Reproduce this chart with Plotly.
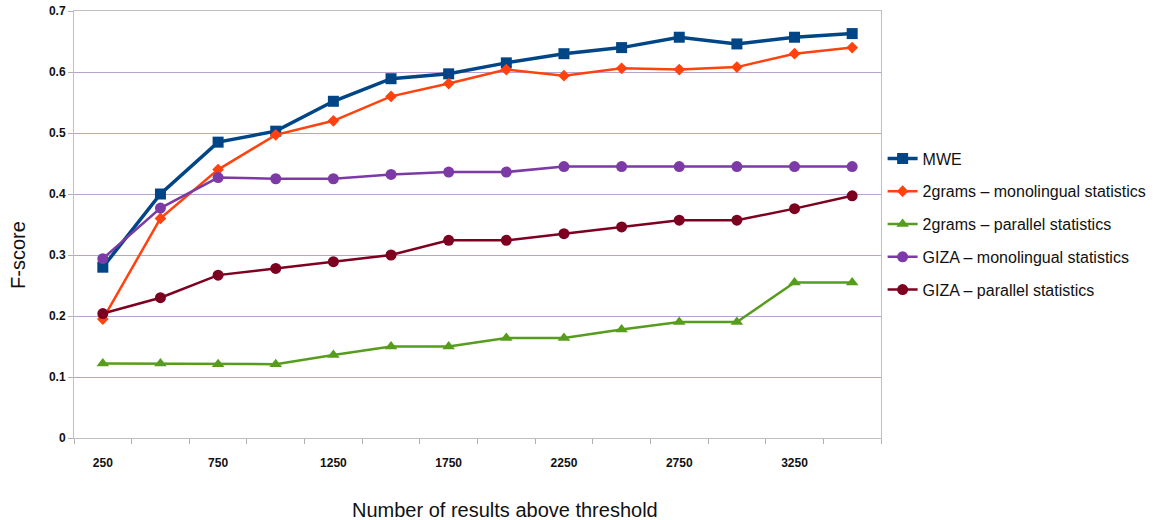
import plotly.graph_objects as go

thresholds = [250, 500, 750, 1000, 1250, 1500, 1750, 2000, 2250, 2500, 2750, 3000, 3250, 3500]
tick_labels = ["250", "750", "1250", "1750", "2250", "2750", "3250"]

mwe = [0.280, 0.400, 0.485, 0.503, 0.552, 0.589, 0.597, 0.615, 0.630, 0.640, 0.657, 0.646, 0.657, 0.663]
grams_mono = [0.195, 0.360, 0.440, 0.497, 0.520, 0.560, 0.581, 0.604, 0.594, 0.606, 0.604, 0.608, 0.630, 0.640]
grams_par = [0.122, 0.122, 0.121, 0.121, 0.136, 0.150, 0.150, 0.164, 0.164, 0.178, 0.190, 0.190, 0.255, 0.255]
giza_mono = [0.294, 0.377, 0.427, 0.425, 0.425, 0.432, 0.436, 0.436, 0.445, 0.445, 0.445, 0.445, 0.445, 0.445]
giza_par = [0.204, 0.230, 0.267, 0.278, 0.289, 0.300, 0.324, 0.324, 0.335, 0.346, 0.357, 0.357, 0.376, 0.397]

series = [
    ("MWE", mwe, "#004586", "square", 11, 3.5),
    ("2grams \u2013 monolingual statistics", grams_mono, "#ff420e", "diamond", 9, 2.5),
    ("2grams \u2013 parallel statistics", grams_par, "#579d1c", "triangle-up", 11, 2.5),
    ("GIZA \u2013 monolingual statistics", giza_mono, "#7b3aa6", "circle", 11, 2.5),
    ("GIZA \u2013 parallel statistics", giza_par, "#7e0021", "circle", 11, 2.5),
]

fig = go.Figure()
for i, (name, vals, color, sym, msize, lw) in enumerate(series):
    fig.add_trace(go.Scatter(
        x=thresholds, y=vals, name=name, mode="lines+markers",
        legendgroup="g%d" % i,
        line=dict(color=color, width=lw),
        marker=dict(symbol=sym, size=msize, color=color),
    ))

font_main = "Liberation Sans, Arial, sans-serif"
font_narrow = "Liberation Sans Narrow, Liberation Sans, sans-serif"

fig.update_layout(
    width=1153, height=520,
    margin=dict(l=74, r=272, t=11, b=82, autoexpand=False),
    paper_bgcolor="white", plot_bgcolor="white",
    font=dict(family=font_main, color="#111111"),
    showlegend=True,
    legend=dict(
        x=1.002, xanchor="left", y=(438 - 224) / 427, yanchor="middle",
        font=dict(size=16, family=font_main, color="#111111"),
        itemwidth=30, tracegroupgap=9,
        bgcolor="rgba(0,0,0,0)",
    ),
    xaxis=dict(
        range=[125, 3625],
        tickmode="array",
        tickvals=[int(t) for t in tick_labels],
        ticktext=tick_labels,
        ticks="",
        ticklabelstandoff=14,
        tickfont=dict(size=12, family=font_narrow, color="#111111", weight="bold"),
        showgrid=False,
        showline=True, linecolor="#c0c0c0", linewidth=1,
        mirror=True,
        zeroline=False,
        minor=dict(tick0=125, dtick=250, ticks="outside", ticklen=5, tickcolor="#b0b0b0", showgrid=False),
    ),
    yaxis=dict(
        range=[0, 0.7],
        tickmode="array",
        tickvals=[0, 0.1, 0.2, 0.3, 0.4, 0.5, 0.6, 0.7],
        ticktext=["0", "0.1", "0.2", "0.3", "0.4", "0.5", "0.6", "0.7"],
        ticks="outside", ticklen=5, tickcolor="#b0b0b0",
        tickfont=dict(size=12, family=font_main, color="#111111", weight="bold"),
        showgrid=True, gridcolor="#b7a3cf", gridwidth=1,
        showline=True, linecolor="#c0c0c0", linewidth=1,
        mirror=True,
        zeroline=False,
    ),
    annotations=[
        dict(text="Number of results above threshold", xref="paper", yref="paper",
             x=(505 - 74) / 807, y=0, yshift=-72, xanchor="center", yanchor="middle",
             showarrow=False,
             font=dict(size=20, family=font_narrow, color="#111111")),
        dict(text="F-score", xref="paper", yref="paper",
             x=0, xshift=-56, y=(438 - 255) / 427, xanchor="center", yanchor="middle",
             textangle=-90, showarrow=False,
             font=dict(size=20, family=font_main, color="#111111")),
    ],
)

fig.write_html("out.html", config={"displayModeBar": False},
               post_script="document.body.style.margin='0';document.body.style.padding='0';")
